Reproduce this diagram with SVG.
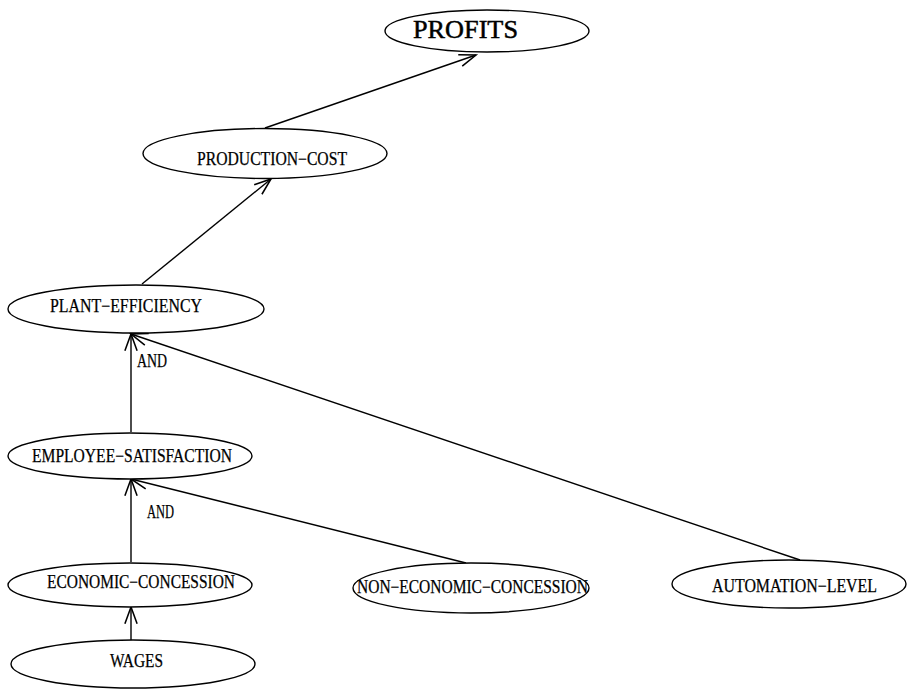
<svg xmlns="http://www.w3.org/2000/svg" width="912" height="690" viewBox="0 0 912 690">
<style>
.n ellipse{fill:#fff;stroke:#000;stroke-width:1.4}
text{font-family:"Liberation Serif","Times New Roman",serif;font-size:18px;fill:#000;stroke:#000;stroke-width:0.25}
.big{font-size:26px;stroke-width:0.5}
.c line{stroke:#000;stroke-width:1.4;fill:none}
</style>
<defs>
<marker id="a" markerUnits="userSpaceOnUse" markerWidth="20" markerHeight="20" viewBox="-16 -8 18 16" refX="0" refY="0" orient="auto">
<path d="M-15,-5.5 L0,0 L-15,5.5" fill="none" stroke="#000" stroke-width="1.4"/>
</marker>
</defs>
<rect width="912" height="690" fill="#fff"/>
<g class="c">
<line x1="265" y1="128" x2="476" y2="55" marker-end="url(#a)"/>
<line x1="142" y1="284" x2="271" y2="179" marker-end="url(#a)"/>
<line x1="131" y1="432" x2="131" y2="334" marker-end="url(#a)"/>
<line x1="800" y1="560" x2="131" y2="334" marker-end="url(#a)"/>
<line x1="131" y1="562" x2="131" y2="479" marker-end="url(#a)"/>
<line x1="466" y1="563" x2="131" y2="479" marker-end="url(#a)"/>
<line x1="131" y1="640" x2="131" y2="607" marker-end="url(#a)"/>
<text x="137" y="367" textLength="30" lengthAdjust="spacingAndGlyphs">AND</text>
<text x="147" y="518" textLength="27" lengthAdjust="spacingAndGlyphs">AND</text>
</g>
<g class="n" id="profits"><ellipse cx="487" cy="31" rx="102" ry="21"/><text class="big" x="413" y="38" textLength="105" lengthAdjust="spacingAndGlyphs">PROFITS</text></g>
<g class="n" id="production-cost"><ellipse cx="265" cy="153.5" rx="122" ry="25"/><text x="197" y="165" textLength="150" lengthAdjust="spacingAndGlyphs">PRODUCTION−COST</text></g>
<g class="n" id="plant-efficiency"><ellipse cx="136" cy="309" rx="128" ry="24"/><text x="50" y="312" textLength="152" lengthAdjust="spacingAndGlyphs">PLANT−EFFICIENCY</text></g>
<g class="n" id="employee-satisfaction"><ellipse cx="130" cy="456" rx="122" ry="23"/><text x="32" y="462" textLength="200" lengthAdjust="spacingAndGlyphs">EMPLOYEE−SATISFACTION</text></g>
<g class="n" id="economic-concession"><ellipse cx="130" cy="585" rx="122" ry="22"/><text x="47" y="588" textLength="188" lengthAdjust="spacingAndGlyphs">ECONOMIC−CONCESSION</text></g>
<g class="n" id="wages"><ellipse cx="133" cy="664" rx="122" ry="24"/><text x="110" y="667" textLength="53" lengthAdjust="spacingAndGlyphs">WAGES</text></g>
<g class="n" id="non-economic-concession"><ellipse cx="471" cy="588" rx="118" ry="25"/><text x="357" y="593" textLength="231" lengthAdjust="spacingAndGlyphs">NON−ECONOMIC−CONCESSION</text></g>
<g class="n" id="automation-level"><ellipse cx="789" cy="584" rx="117" ry="24"/><text x="712" y="592" textLength="165" lengthAdjust="spacingAndGlyphs">AUTOMATION−LEVEL</text></g>
</svg>
